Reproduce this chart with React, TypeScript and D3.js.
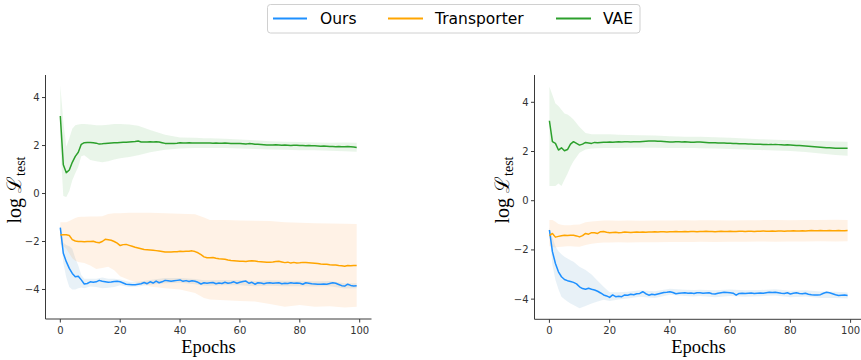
import React from "react";
import * as d3 from "d3";

// ---------- DATA ----------
const epochs: number[] = Array.from({ length: 100 }, (_, i) => i);
const bandEpochs = [0, 1, 2, 3, 4, 5, 6, 7, 8, 10, 12, 14, 16, 18, 20, 23, 26, 30, 35, 40, 45, 48, 50, 55, 60, 65, 70, 75, 80, 85, 90, 95, 99];
const seriesNames = ["Ours", "Transporter", "VAE"];
const yTicks = [-4, -2, 0, 2, 4];
const xTicks = [0, 20, 40, 60, 80, 100];

// Left panel
const leftVAE = [
  3.23, 1.2, 0.87, 0.98, 1.3, 1.55, 1.72, 2.05, 2.12, 2.13,
  2.13, 2.12, 2.1, 2.06, 2.07, 2.09, 2.1, 2.11, 2.12, 2.12,
  2.13, 2.14, 2.14, 2.15, 2.16, 2.17, 2.19, 2.15, 2.15, 2.15,
  2.16, 2.15, 2.16, 2.15, 2.12, 2.09, 2.09, 2.09, 2.09, 2.1,
  2.12, 2.11, 2.11, 2.12, 2.11, 2.11, 2.11, 2.11, 2.11, 2.11,
  2.11, 2.1, 2.11, 2.1, 2.1, 2.11, 2.1, 2.09, 2.09, 2.08,
  2.08, 2.07, 2.06, 2.08, 2.07, 2.05, 2.05, 2.04, 2.03, 2.02,
  2.02, 2.02, 2.03, 2.02, 2.01, 2.02, 2.01, 2.0, 2.01, 2.01,
  2.0, 2.0, 1.99, 2.0, 1.99, 1.99, 1.98, 1.97, 1.98, 1.97,
  1.96, 1.96, 1.95, 1.96, 1.95, 1.95, 1.96, 1.95, 1.94, 1.92,
];
const leftTransporter = [
  -1.73, -1.72, -1.72, -1.75, -1.92, -1.98, -2.0, -2.0, -2.01, -2.0,
  -2.0, -1.99, -2.03, -2.05, -2.0, -1.91, -1.93, -1.95, -2.0, -2.07,
  -2.17, -2.13, -2.12, -2.16, -2.2, -2.24, -2.27, -2.3, -2.33, -2.34,
  -2.35, -2.36, -2.38, -2.4, -2.42, -2.44, -2.44, -2.44, -2.43, -2.43,
  -2.41, -2.42, -2.41, -2.41, -2.39, -2.42, -2.47, -2.55, -2.64, -2.68,
  -2.68, -2.67, -2.7, -2.72, -2.73, -2.74, -2.77, -2.79, -2.8, -2.81,
  -2.82, -2.82, -2.83, -2.81, -2.8, -2.81, -2.83, -2.84, -2.85, -2.86,
  -2.86, -2.85, -2.83, -2.82, -2.85, -2.88, -2.86, -2.9, -2.87, -2.9,
  -2.89, -2.87, -2.88, -2.89, -2.9, -2.91, -2.92, -2.94, -2.95, -2.95,
  -2.97, -2.98, -2.98, -3.0, -3.01, -3.03, -3.0, -3.01, -3.0, -3.0,
];
const leftOurs = [
  -1.42, -2.49, -2.84, -3.12, -3.33, -3.47, -3.45, -3.6, -3.77, -3.75,
  -3.68, -3.7, -3.68, -3.62, -3.66, -3.68, -3.7, -3.69, -3.67, -3.66,
  -3.68, -3.73, -3.78, -3.79, -3.8, -3.8, -3.78, -3.76, -3.71, -3.76,
  -3.68, -3.73, -3.65, -3.72, -3.68, -3.62, -3.64, -3.66, -3.64, -3.62,
  -3.6, -3.66, -3.63, -3.67, -3.64, -3.66, -3.7, -3.77, -3.72, -3.74,
  -3.72, -3.71, -3.76, -3.73, -3.75, -3.7, -3.74, -3.72, -3.68, -3.74,
  -3.7, -3.67, -3.65, -3.74, -3.7, -3.78, -3.72, -3.73, -3.76, -3.73,
  -3.72, -3.74, -3.73, -3.72, -3.76, -3.74, -3.75, -3.72, -3.74, -3.73,
  -3.74, -3.78, -3.72, -3.74, -3.76, -3.77, -3.78, -3.78, -3.77, -3.78,
  -3.75, -3.72, -3.74, -3.79, -3.84, -3.86, -3.78, -3.83, -3.85, -3.84,
];
const leftVAEUpper = [4.5, 3.0, 1.95, 2.3, 2.7, 2.85, 2.88, 2.9, 2.9, 2.88, 2.85, 2.85, 2.87, 2.9, 2.9, 2.88, 2.82, 2.65, 2.45, 2.33, 2.32, 2.3, 2.3, 2.28, 2.25, 2.22, 2.18, 2.16, 2.15, 2.13, 2.12, 2.13, 2.12];
const leftVAELower = [2.0, -0.1, -0.15, 0.1, 0.55, 0.85, 1.12, 1.55, 1.6, 1.4, 1.35, 1.3, 1.35, 1.42, 1.47, 1.52, 1.6, 1.72, 1.82, 1.88, 1.9, 1.9, 1.9, 1.9, 1.88, 1.86, 1.84, 1.82, 1.8, 1.8, 1.78, 1.76, 1.74];
const leftTransporterUpper = [-1.2, -1.2, -1.2, -1.15, -1.08, -1.02, -0.98, -0.97, -0.97, -0.96, -0.96, -0.95, -0.85, -0.82, -0.82, -0.8, -0.8, -0.8, -0.82, -0.84, -0.86, -1.0, -1.1, -1.1, -1.12, -1.14, -1.15, -1.2, -1.22, -1.24, -1.25, -1.26, -1.27];
const leftTransporterLower = [-2.1, -2.2, -2.3, -2.5, -2.7, -2.8, -2.85, -2.88, -2.9, -3.0, -3.15, -3.1, -3.05, -3.2, -3.45, -3.6, -3.72, -3.88, -3.95, -4.0, -4.15, -4.35, -4.42, -4.45, -4.48, -4.5, -4.6, -4.72, -4.65, -4.72, -4.7, -4.75, -4.72];
const leftOursUpper = [-1.35, -2.05, -2.15, -2.2, -2.3, -2.7, -3.0, -3.4, -3.55, -3.55, -3.55, -3.5, -3.55, -3.55, -3.58, -3.68, -3.68, -3.6, -3.52, -3.52, -3.56, -3.62, -3.62, -3.6, -3.6, -3.65, -3.62, -3.64, -3.64, -3.66, -3.65, -3.74, -3.74];
const leftOursLower = [-1.5, -2.9, -3.5, -3.9, -4.0, -4.0, -3.95, -3.92, -3.95, -3.88, -3.9, -3.95, -3.93, -3.9, -3.82, -3.9, -3.88, -3.8, -3.74, -3.72, -3.78, -3.84, -3.84, -3.82, -3.82, -3.87, -3.84, -3.86, -3.86, -3.88, -3.87, -3.96, -3.95];

// Right panel
const rightVAE = [
  3.25, 2.4, 2.33, 2.06, 2.15, 2.03, 2.08, 2.3, 2.4, 2.33,
  2.26, 2.3, 2.37, 2.35, 2.33, 2.37, 2.36, 2.37, 2.38, 2.38,
  2.39, 2.38, 2.39, 2.4, 2.39, 2.4, 2.4, 2.39, 2.4, 2.4,
  2.4, 2.41, 2.42, 2.43, 2.43, 2.43, 2.42, 2.42, 2.41, 2.4,
  2.39, 2.39, 2.4, 2.4, 2.39, 2.4, 2.39, 2.38, 2.38, 2.39,
  2.39, 2.38, 2.37, 2.36, 2.36, 2.36, 2.35, 2.35, 2.35, 2.34,
  2.34, 2.33, 2.33, 2.32, 2.32, 2.32, 2.31, 2.31, 2.3, 2.3,
  2.3, 2.29, 2.29, 2.28, 2.28, 2.29, 2.28, 2.27, 2.26, 2.27,
  2.26, 2.25, 2.24, 2.24, 2.23, 2.22, 2.21, 2.2, 2.19, 2.18,
  2.17, 2.16, 2.15, 2.15, 2.14, 2.13, 2.13, 2.13, 2.13, 2.13,
];
const rightTransporter = [
  -1.42, -1.33, -1.48, -1.45, -1.42, -1.4, -1.41, -1.4, -1.4, -1.43,
  -1.47, -1.42, -1.33, -1.36, -1.3, -1.3, -1.33, -1.26, -1.25, -1.28,
  -1.3, -1.29, -1.28, -1.3, -1.29, -1.27, -1.28, -1.29, -1.28, -1.27,
  -1.28, -1.27, -1.28, -1.27, -1.27, -1.26, -1.27, -1.26, -1.26, -1.27,
  -1.26, -1.26, -1.25, -1.26, -1.26, -1.25, -1.26, -1.25, -1.25, -1.26,
  -1.25, -1.25, -1.24, -1.25, -1.25, -1.26, -1.25, -1.24, -1.25, -1.25,
  -1.24, -1.25, -1.25, -1.24, -1.24, -1.25, -1.24, -1.24, -1.25, -1.24,
  -1.24, -1.23, -1.24, -1.24, -1.23, -1.24, -1.23, -1.23, -1.24, -1.23,
  -1.23, -1.22, -1.23, -1.23, -1.22, -1.23, -1.22, -1.21, -1.22, -1.22,
  -1.21, -1.22, -1.22, -1.21, -1.22, -1.22, -1.21, -1.22, -1.22, -1.21,
];
const rightOurs = [
  -1.19, -2.07, -2.55, -2.89, -3.09, -3.2, -3.25, -3.28, -3.32, -3.38,
  -3.5, -3.57, -3.6, -3.56, -3.6, -3.63, -3.68, -3.75, -3.83, -3.87,
  -3.93, -3.83, -3.9, -3.88, -3.9, -3.83, -3.84, -3.8, -3.82, -3.78,
  -3.77, -3.7, -3.78, -3.84, -3.8, -3.82, -3.79, -3.76, -3.73, -3.72,
  -3.7, -3.73, -3.78, -3.76, -3.75, -3.74, -3.76, -3.75, -3.77, -3.74,
  -3.74, -3.76, -3.75, -3.74, -3.78, -3.79, -3.76, -3.74, -3.72, -3.73,
  -3.74, -3.76, -3.84, -3.77, -3.76, -3.77, -3.76, -3.75, -3.77, -3.76,
  -3.75, -3.76, -3.74, -3.72, -3.73, -3.72, -3.74, -3.76, -3.77, -3.74,
  -3.79, -3.76, -3.74, -3.77, -3.78, -3.76, -3.8, -3.82, -3.83, -3.83,
  -3.82, -3.76, -3.72, -3.74, -3.78, -3.82, -3.85, -3.84, -3.83, -3.85,
];
const rightVAEUpper = [4.63, 4.3, 3.95, 3.85, 3.7, 3.55, 3.5, 3.41, 3.3, 3.0, 2.75, 2.7, 2.7, 2.7, 2.7, 2.68, 2.67, 2.66, 2.65, 2.62, 2.6, 2.6, 2.6, 2.58, 2.56, 2.53, 2.5, 2.48, 2.46, 2.45, 2.43, 2.41, 2.4];
const rightVAELower = [0.6, 0.6, 0.6, 0.7, 0.6, 0.85, 1.1, 1.38, 1.6, 1.95, 2.08, 2.12, 2.13, 2.14, 2.14, 2.14, 2.15, 2.15, 2.15, 2.14, 2.14, 2.14, 2.13, 2.12, 2.1, 2.08, 2.06, 2.04, 2.02, 1.98, 1.92, 1.86, 1.83];
const rightTransporterUpper = [-0.78, -0.78, -0.85, -0.95, -0.98, -1.0, -1.0, -1.0, -0.98, -0.97, -0.88, -0.84, -0.82, -0.8, -0.8, -0.81, -0.8, -0.81, -0.8, -0.8, -0.79, -0.8, -0.79, -0.79, -0.8, -0.79, -0.79, -0.78, -0.79, -0.78, -0.78, -0.77, -0.78];
const rightTransporterLower = [-1.85, -1.88, -1.9, -1.88, -1.87, -1.86, -1.85, -1.85, -1.86, -1.87, -1.8, -1.75, -1.72, -1.7, -1.7, -1.69, -1.7, -1.69, -1.69, -1.68, -1.68, -1.68, -1.67, -1.68, -1.67, -1.67, -1.66, -1.67, -1.66, -1.66, -1.65, -1.66, -1.65];
const rightOursUpper = [-1.1, -1.5, -1.85, -2.05, -2.18, -2.28, -2.35, -2.42, -2.48, -2.68, -2.82, -3.0, -3.25, -3.5, -3.72, -3.72, -3.7, -3.64, -3.68, -3.58, -3.62, -3.63, -3.62, -3.64, -3.61, -3.64, -3.63, -3.6, -3.66, -3.64, -3.69, -3.7, -3.73];
const rightOursLower = [-1.3, -2.6, -3.22, -3.6, -3.9, -4.0, -4.1, -4.18, -4.24, -4.37, -4.28, -4.18, -4.1, -4.03, -4.08, -4.02, -3.97, -3.9, -3.95, -3.82, -3.87, -3.89, -3.87, -3.92, -3.87, -3.9, -3.88, -3.85, -3.92, -3.89, -3.95, -3.95, -3.97];

// ---------- STYLE ----------
const lineColors = ["#1e90ff", "#ffa500", "#2ca02c"];
const fillColors = ["#1f77b4", "#ff7f0e", "#2ca02c"];
const fillOpacity = [0.1, 0.1, 0.1];
const axisColor = "#3a3a3a";
const tickFont = "'DejaVu Sans', sans-serif";
const serif = "'Liberation Serif', 'DejaVu Serif', serif";

type SeriesSet = { mean: number[]; upper: number[]; lower: number[] }[];

const W = 861;
const H = 360;

function Panel(props: {
  left: number;
  right: number;
  top: number;
  bottom: number;
  yDomain: [number, number];
  series: SeriesSet;
  labelX: number;
}) {
  const { left, right, top, bottom, yDomain, series, labelX } = props;
  const x = d3.scaleLinear().domain([-4.95, 103.95]).range([left, right]);
  const y = d3.scaleLinear().domain(yDomain).range([bottom, top]);
  const fmt = d3.format("d");
  const line = d3
    .line<number>()
    .x((_, i) => x(epochs[i]))
    .y((d) => y(d));
  const area = (up: number[], lo: number[]) =>
    d3
      .area<number>()
      .x((e) => x(e))
      .y0((_, i) => y(lo[i]))
      .y1((_, i) => y(up[i]))(bandEpochs);
  const cx = (left + right) / 2;
  const cy = 190;
  return (
    <g>
      {series.map((s, i) => (
        <path key={"f" + i} d={area(s.upper, s.lower) || ""} fill={fillColors[i]} fillOpacity={fillOpacity[i]} stroke="none" />
      ))}
      {series.map((s, i) => (
        <path key={"l" + i} d={line(s.mean) || ""} fill="none" stroke={lineColors[i]} strokeWidth={1.5} strokeLinejoin="round" />
      ))}
      <line x1={left} x2={left} y1={top} y2={bottom} stroke={axisColor} strokeWidth={1} />
      <line x1={left} x2={right} y1={bottom} y2={bottom} stroke={axisColor} strokeWidth={1} />
      {yTicks.map((t) => (
        <g key={"y" + t}>
          <line x1={left - 3.5} x2={left} y1={y(t)} y2={y(t)} stroke={axisColor} strokeWidth={1} />
          <text x={left - 6} y={y(t)} dy="0.35em" textAnchor="end" fontFamily={tickFont} fontSize={10} fill="#333">
            {d3.format("d")(t).replace("-", "\u2212")}
          </text>
        </g>
      ))}
      {xTicks.map((t) => (
        <g key={"x" + t}>
          <line x1={x(t)} x2={x(t)} y1={bottom} y2={bottom + 3.5} stroke={axisColor} strokeWidth={1} />
          <text x={x(t)} y={bottom + 14.5} textAnchor="middle" fontFamily={tickFont} fontSize={10} fill="#333">
            {fmt(t)}
          </text>
        </g>
      ))}
      <text x={cx} y={353} textAnchor="middle" fontFamily={serif} fontSize={18.5} fill="#000">
        Epochs
      </text>
      <text transform={`translate(${labelX},${cy}) rotate(-90)`} textAnchor="middle" fontFamily={serif} fontSize={20} fill="#000">
        <tspan>log </tspan>
        <tspan fontFamily="'DejaVu Serif', serif">ℒ</tspan>
        <tspan fontSize={14} dy={4}>test</tspan>
      </text>
    </g>
  );
}

function Legend() {
  const items = [
    { x1: 273, x2: 307, tx: 320 },
    { x1: 388, x2: 423, tx: 435 },
    { x1: 556, x2: 591, tx: 603 },
  ];
  return (
    <g>
      <rect x={267.5} y={4.5} width={372.5} height={28.5} rx={3} ry={3} fill="#fff" stroke="#d0d0d0" strokeWidth={1} />
      {seriesNames.map((name, i) => (
        <g key={name}>
          <line x1={items[i].x1} x2={items[i].x2} y1={18.5} y2={18.5} stroke={lineColors[i]} strokeWidth={2.2} />
          <text x={items[i].tx} y={24} fontFamily={tickFont} fontSize={15.5} fill="#000">
            {name}
          </text>
        </g>
      ))}
    </g>
  );
}

export default function App() {
  const leftSeries: SeriesSet = [
    { mean: leftOurs, upper: leftOursUpper, lower: leftOursLower },
    { mean: leftTransporter, upper: leftTransporterUpper, lower: leftTransporterLower },
    { mean: leftVAE, upper: leftVAEUpper, lower: leftVAELower },
  ];
  const rightSeries: SeriesSet = [
    { mean: rightOurs, upper: rightOursUpper, lower: rightOursLower },
    { mean: rightTransporter, upper: rightTransporterUpper, lower: rightTransporterLower },
    { mean: rightVAE, upper: rightVAEUpper, lower: rightVAELower },
  ];
  return (
    <svg
      width={W}
      height={H}
      viewBox={`0 0 ${W} ${H}`}
      style={{ position: "absolute", left: 0, top: 0, background: "#fff" }}
    >
      <rect x={0} y={0} width={W} height={H} fill="#fff" />
      <Panel left={45.5} right={371.5} top={75} bottom={319} yDomain={[-5.23, 4.94]} series={leftSeries} labelX={21} />
      <Panel left={534.5} right={862.5} top={75} bottom={319.3} yDomain={[-4.82, 5.11]} series={rightSeries} labelX={509} />
      <Legend />
    </svg>
  );
}
